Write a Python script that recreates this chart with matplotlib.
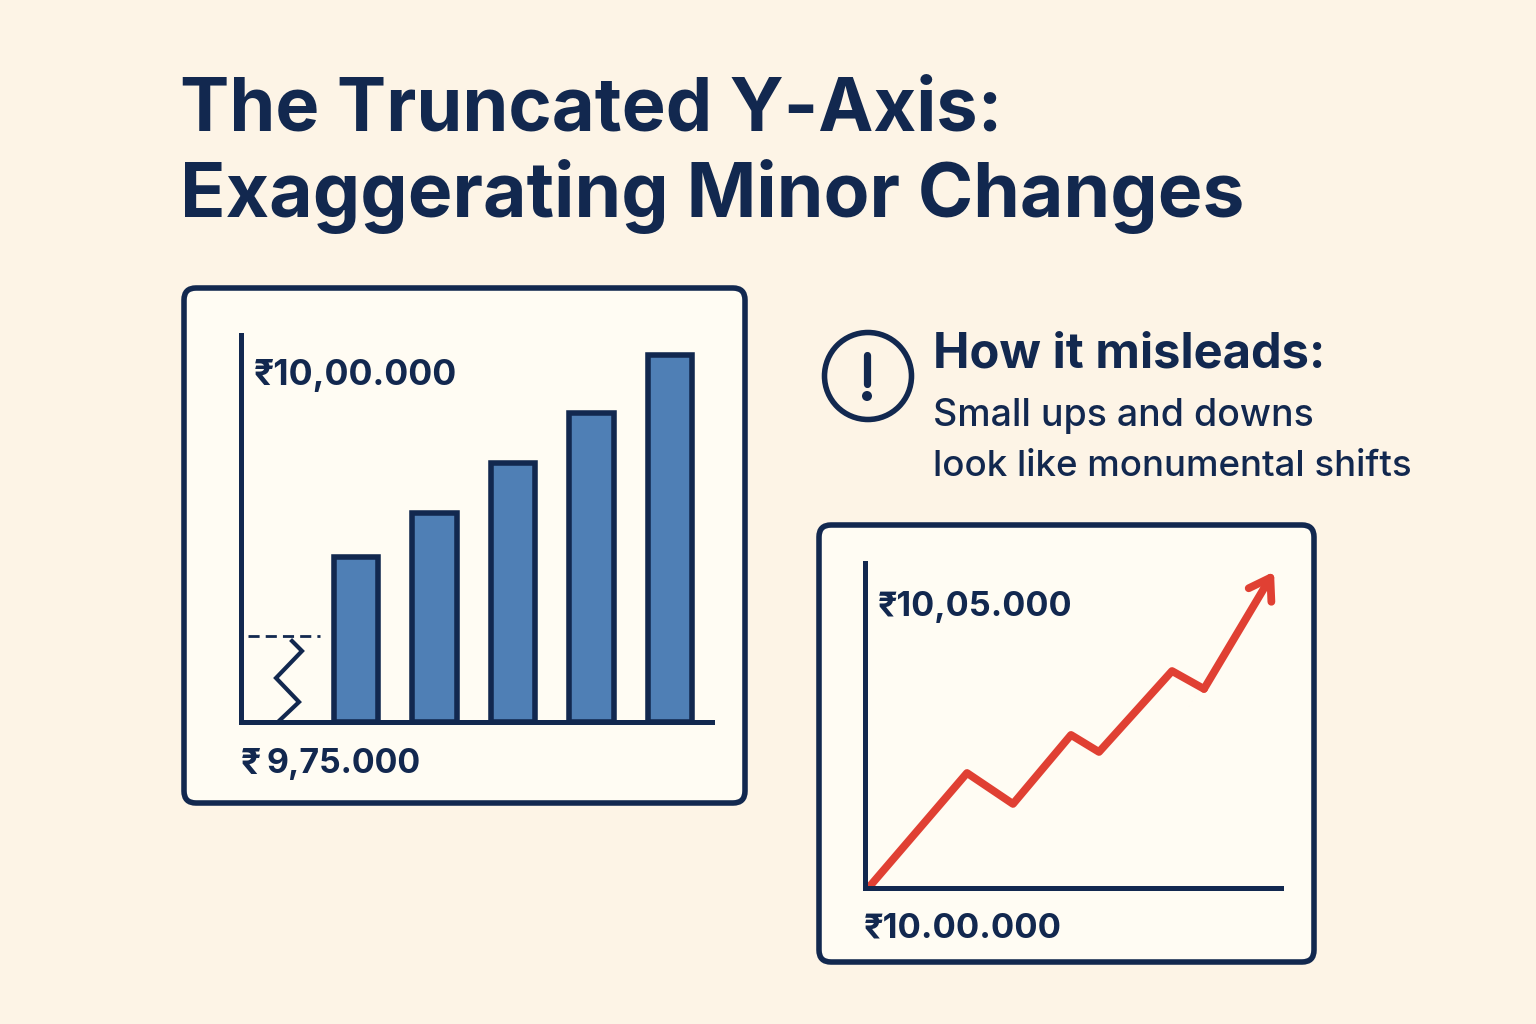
import matplotlib
matplotlib.use('Agg')
import matplotlib.pyplot as plt
from matplotlib.patches import FancyBboxPatch, Circle

plt.rcParams['font.family'] = ['Inter', 'Noto Sans', 'DejaVu Sans']

navy = '#12284F'
blue = '#4F7FB5'
red = '#E04033'
paper = '#FDF4E6'
panel = '#FFFCF3'

# bars (rupees)
bar_pos = [1, 2, 3, 4, 5]
bar_vals = [986800, 989900, 993500, 997100, 1001200]
bar_base = 975000
break_level = 981150
zig_x = [0.185, 0.312, -0.019, 0.274, 0.032]
zig_y = [980786, 980071, 978143, 976429, 975143]

# line (rupees)
line_x = [0, 24.25, 35.75, 50.25, 57.25, 75.5, 83.5, 101]
line_vals = [1000035, 1002025, 1001480, 1002695, 1002395, 1003820, 1003505, 1005570]

title_lines = ['The Truncated Y-Axis:', 'Exaggerating Minor Changes']
note_head = 'How it misleads:'
note_lines = ['Small ups and downs', 'look like monumental shifts']
bar_labels = ['₹10,00.000', '₹', '9,75.000']
line_labels = ['₹10,05.000', '₹10.00.000']

W, H = 1536, 1024
fig = plt.figure(figsize=(W / 100, H / 100), dpi=100, facecolor=paper)

# overlay in pixel coordinates for the page furniture
bg = fig.add_axes([0, 0, 1, 1])
bg.set_xlim(0, W)
bg.set_ylim(H, 0)
bg.axis('off')


def axes_px(x0, y0, x1, y1):
    ax = fig.add_axes([x0 / W, 1 - y1 / H, (x1 - x0) / W, (y1 - y0) / H])
    ax.patch.set_alpha(0)
    ax.spines[['top', 'right']].set_visible(False)
    ax.spines[['left', 'bottom']].set_color(navy)
    ax.spines[['left', 'bottom']].set_linewidth(3.6)
    ax.set_xticks([])
    ax.set_yticks([])
    return ax


def frame(x0, y0, x1, y1):
    bg.add_patch(FancyBboxPatch((x0 + 12, y0 + 12), x1 - x0 - 24, y1 - y0 - 24,
                                boxstyle='round,pad=12,rounding_size=12',
                                fc=panel, ec=navy, lw=4))


frame(184, 288, 745, 803)
frame(819, 525, 1314, 962)

bg.text(180, 111, title_lines[0], fontsize=53.2, fontweight='bold', color=navy, va='center')
bg.text(180, 197, title_lines[1], fontsize=54, fontweight='bold', color=navy, va='center')

# warning icon
bg.add_patch(Circle((868, 376), 43.5, fc='none', ec=navy, lw=4))
bg.plot([867, 867], [355, 384], color=navy, lw=5.2, solid_capstyle='round')
bg.add_patch(Circle((867, 396), 5, fc=navy, ec='none'))

bg.text(933, 355, note_head, fontsize=35.2, fontweight='bold', color=navy, va='center')
bg.text(933, 416, note_lines[0], fontsize=27, fontweight='medium', color=navy, va='center')
bg.text(933, 467, note_lines[1], fontsize=26.4, fontweight='medium', color=navy, va='center')

bg.text(254, 376, bar_labels[0], fontsize=25.6, fontweight='bold', color=navy, va='center')
bg.text(241, 764, bar_labels[1], fontsize=25.6, fontweight='bold', color=navy, va='center')
bg.text(267, 764, bar_labels[2], fontsize=24.4, fontweight='bold', color=navy, va='center')
bg.text(878, 607, line_labels[0], fontsize=24.6, fontweight='bold', color=navy, va='center')
bg.text(864, 929, line_labels[1], fontsize=24.8, fontweight='bold', color=navy, va='center')

# bar panel
ax1 = axes_px(241, 335, 712, 722)
ax1.bar(bar_pos, [v - bar_base for v in bar_vals], bottom=bar_base, width=0.573,
        color=blue, edgecolor=navy, linewidth=4)
ax1.hlines(break_level, -0.376, 0.541, color=navy, lw=2, linestyles=(0, (4, 2.2)))
ax1.plot(zig_x, zig_y, color=navy, lw=3, solid_joinstyle='miter')
ax1.set_xlim(-0.465, 5.535)
ax1.set_ylim(bar_base, 1002643)

# line panel
ax2 = axes_px(865, 563, 1281, 888)
ax2.plot(line_x[:-1], line_vals[:-1], color=red, lw=5.6, solid_joinstyle='round',
         solid_capstyle='round', clip_on=False)
ax2.annotate('', xy=(line_x[-1], line_vals[-1]), xytext=(line_x[-2], line_vals[-2]),
             arrowprops=dict(arrowstyle='->,head_length=1.45,head_width=0.95', color=red,
                             lw=5.6, shrinkA=0, shrinkB=0, joinstyle='round', capstyle='round'))
ax2.set_xlim(-1.25, 102.75)
ax2.set_ylim(1000000, 1005722)

plt.savefig('out.png', dpi=100, facecolor=paper)
